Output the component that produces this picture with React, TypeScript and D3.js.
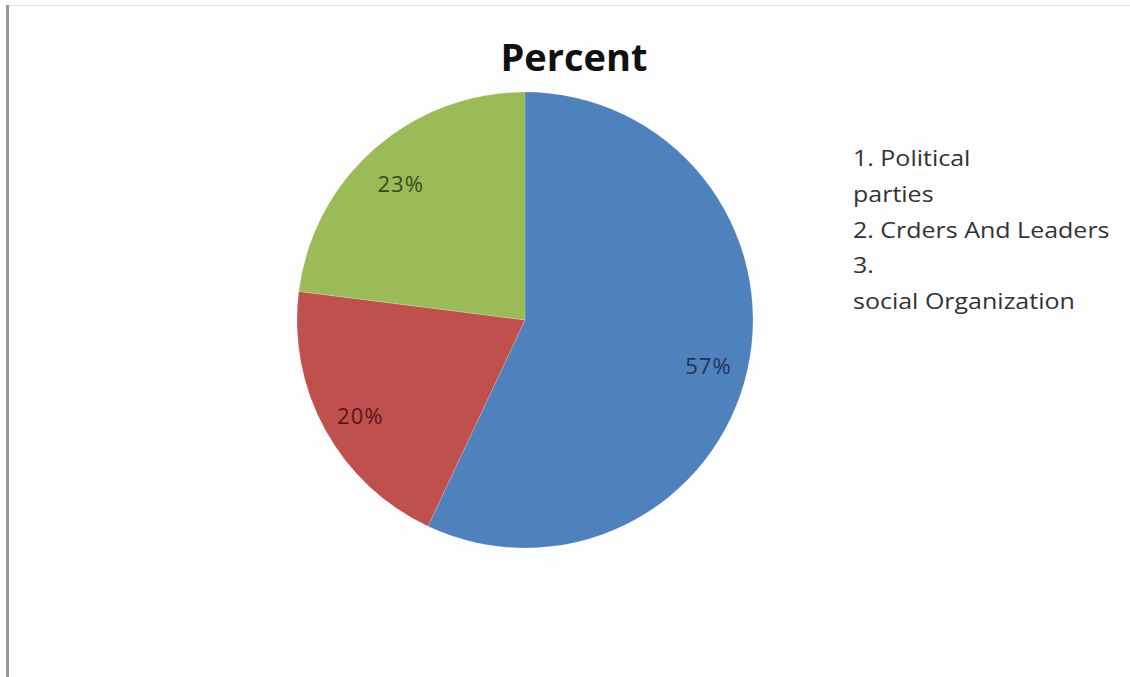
import React from "react";
import * as d3 from "d3";

const categories = ["1. Political parties", "2. Crders And Leaders", "3. social Organization"];
const values = [57, 20, 23];
const colors = ["#4f81bd", "#c0504d", "#9bbb59"];
const labelColors = ["#1d3557", "#5a1614", "#3a4a1a"];
const legendLines = ["1. Political", "parties", "2. Crders And Leaders", "3.", "social Organization"];

export default function App() {
  const W = 1130, H = 677;
  const cx = 525, cy = 320, r = 228;
  const pie = d3.pie<number>().sort(null).value((d) => d);
  const arcs = pie(values);
  const arc = d3.arc<d3.PieArcDatum<number>>().innerRadius(0).outerRadius(r);
  const labelArc = d3.arc<d3.PieArcDatum<number>>().innerRadius(188 * 2 - r).outerRadius(r);
  const font = "'Open Sans', Lato, sans-serif";
  return (
    <div style={{ position: "fixed", left: 0, top: 0 }}>
      <svg width={W} height={H} style={{ display: "block" }}>
        <rect x={0} y={0} width={W} height={H} fill="#ffffff" />
        <rect x={9} y={5} width={W - 9} height={H - 5} fill="#fdfdfd" />
        <line x1={9} x2={W} y1={5.5} y2={5.5} stroke="#e4e4e4" strokeWidth={1} />
        <rect x={6} y={5} width={3} height={H - 5} fill="#999999" />
        <text x={574} y={71} textAnchor="middle" fontFamily={font} fontWeight="bold" fontSize={38} fill="#111">
          Percent
        </text>
        <g transform={`translate(${cx},${cy})`}>
          {arcs.map((a, i) => (
            <path key={categories[i]} d={arc(a) || ""} fill={colors[i]} stroke="#ffffff" strokeOpacity={0.3} strokeWidth={0.5} />
          ))}
          {arcs.map((a, i) => {
            const [x, y] = labelArc.centroid(a);
            return (
              <text key={"l" + i} x={x} y={y + 4} textAnchor="middle" dominantBaseline="central" fontFamily={font} fontSize={22} letterSpacing={1} fill={labelColors[i]}>
                {values[i]}%
              </text>
            );
          })}
        </g>
        <g transform="translate(853,0) scale(1.19,1)">
          {legendLines.map((t, i) => (
            <text key={t} x={0} y={166 + i * 35.8} fontFamily={font} fontSize={21} fill="#333">
              {t}
            </text>
          ))}
        </g>
      </svg>
    </div>
  );
}
